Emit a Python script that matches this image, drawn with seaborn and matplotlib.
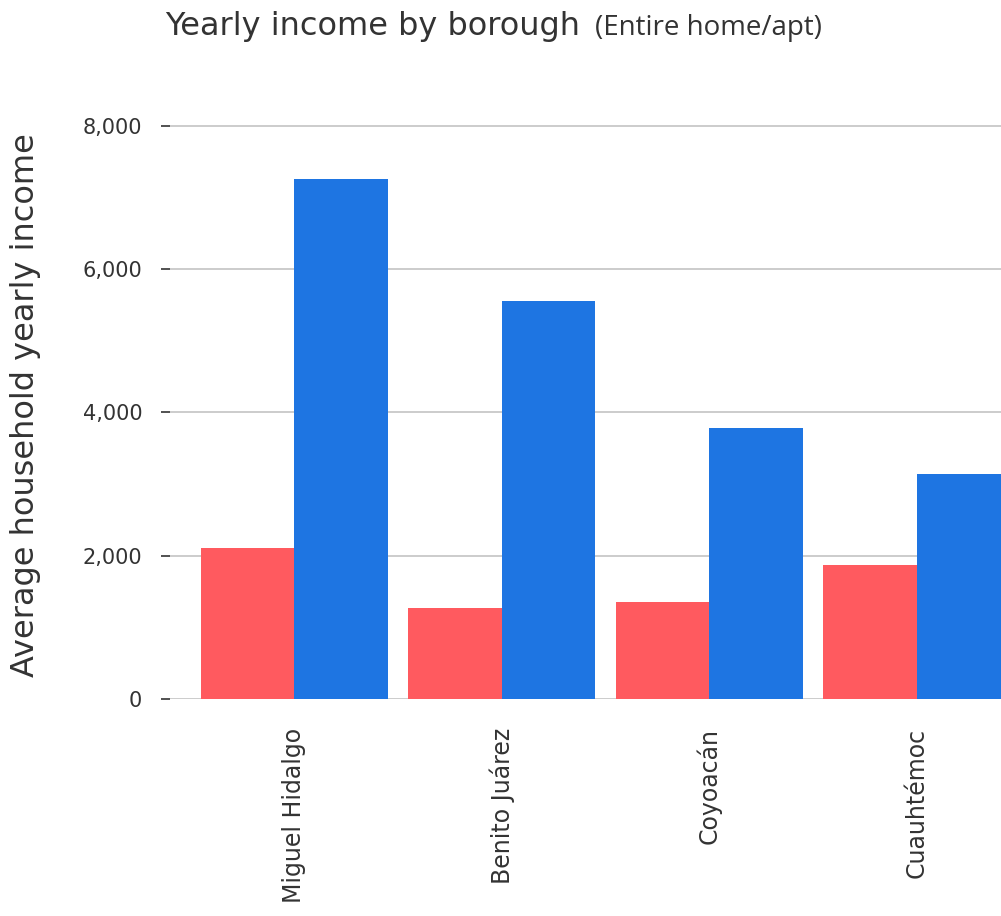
import pandas as pd
import matplotlib.pyplot as plt
import seaborn as sns

# data
boroughs = ['Miguel Hidalgo', 'Benito Juárez', 'Coyoacán', 'Cuauhtémoc']
airbnb_income = [2107, 1275, 1358, 1871]
household_income = [7260, 5557, 3784, 3146]
series = ['Airbnb', 'Household']
colors = ['#FF5A5F', '#1E75E2']
yticks = [0, 2000, 4000, 6000, 8000]

df = pd.DataFrame({
    'borough': boroughs * 2,
    'income': airbnb_income + household_income,
    'series': [series[0]] * 4 + [series[1]] * 4,
})

sns.set_style('white')
plt.rcParams['font.family'] = ['DejaVu Sans']

fig = plt.figure(figsize=(10.01, 9.16), dpi=100)
ax = fig.add_axes([170 / 1001, 217 / 916, 871 / 1001, 600 / 916])

sns.barplot(data=df, x='borough', y='income', hue='series', palette=colors,
            width=0.9, gap=0, saturation=1, linewidth=0, legend=False,
            ax=ax, zorder=3)

ax.set_xlim(-0.6, 3.6)
ax.set_ylim(0, 8000 * 600 / 573)
ax.set_yticks(yticks)
ax.set_yticklabels([f'{v:,}' for v in yticks], color='#333333', fontsize=15)
ax.yaxis.grid(True, color='#c8c8c8', linewidth=1.3, zorder=0)
ax.tick_params(axis='y', length=6.5, width=1.2, color='#333333', pad=13.5, left=True)
ax.tick_params(axis='x', length=0, pad=21)
plt.setp(ax.get_xticklabels(), rotation=90, fontsize=17, color='#333333', va='top')
for s in ax.spines.values():
    s.set_visible(False)

ax.set_xlabel('')
ax.set_ylabel('Average household yearly income', fontsize=23, color='#333333')
ax.yaxis.set_label_coords(-0.148, 0.49)

fig.text(165 / 1001, 1 - 35 / 916, 'Yearly income by borough', fontsize=23,
         color='#333333', va='baseline')
fig.text(595 / 1001, 1 - 35 / 916, '(Entire home/apt)', fontsize=20,
         color='#333333', family='Open Sans', va='baseline')

fig.savefig('out.png', dpi=100)
